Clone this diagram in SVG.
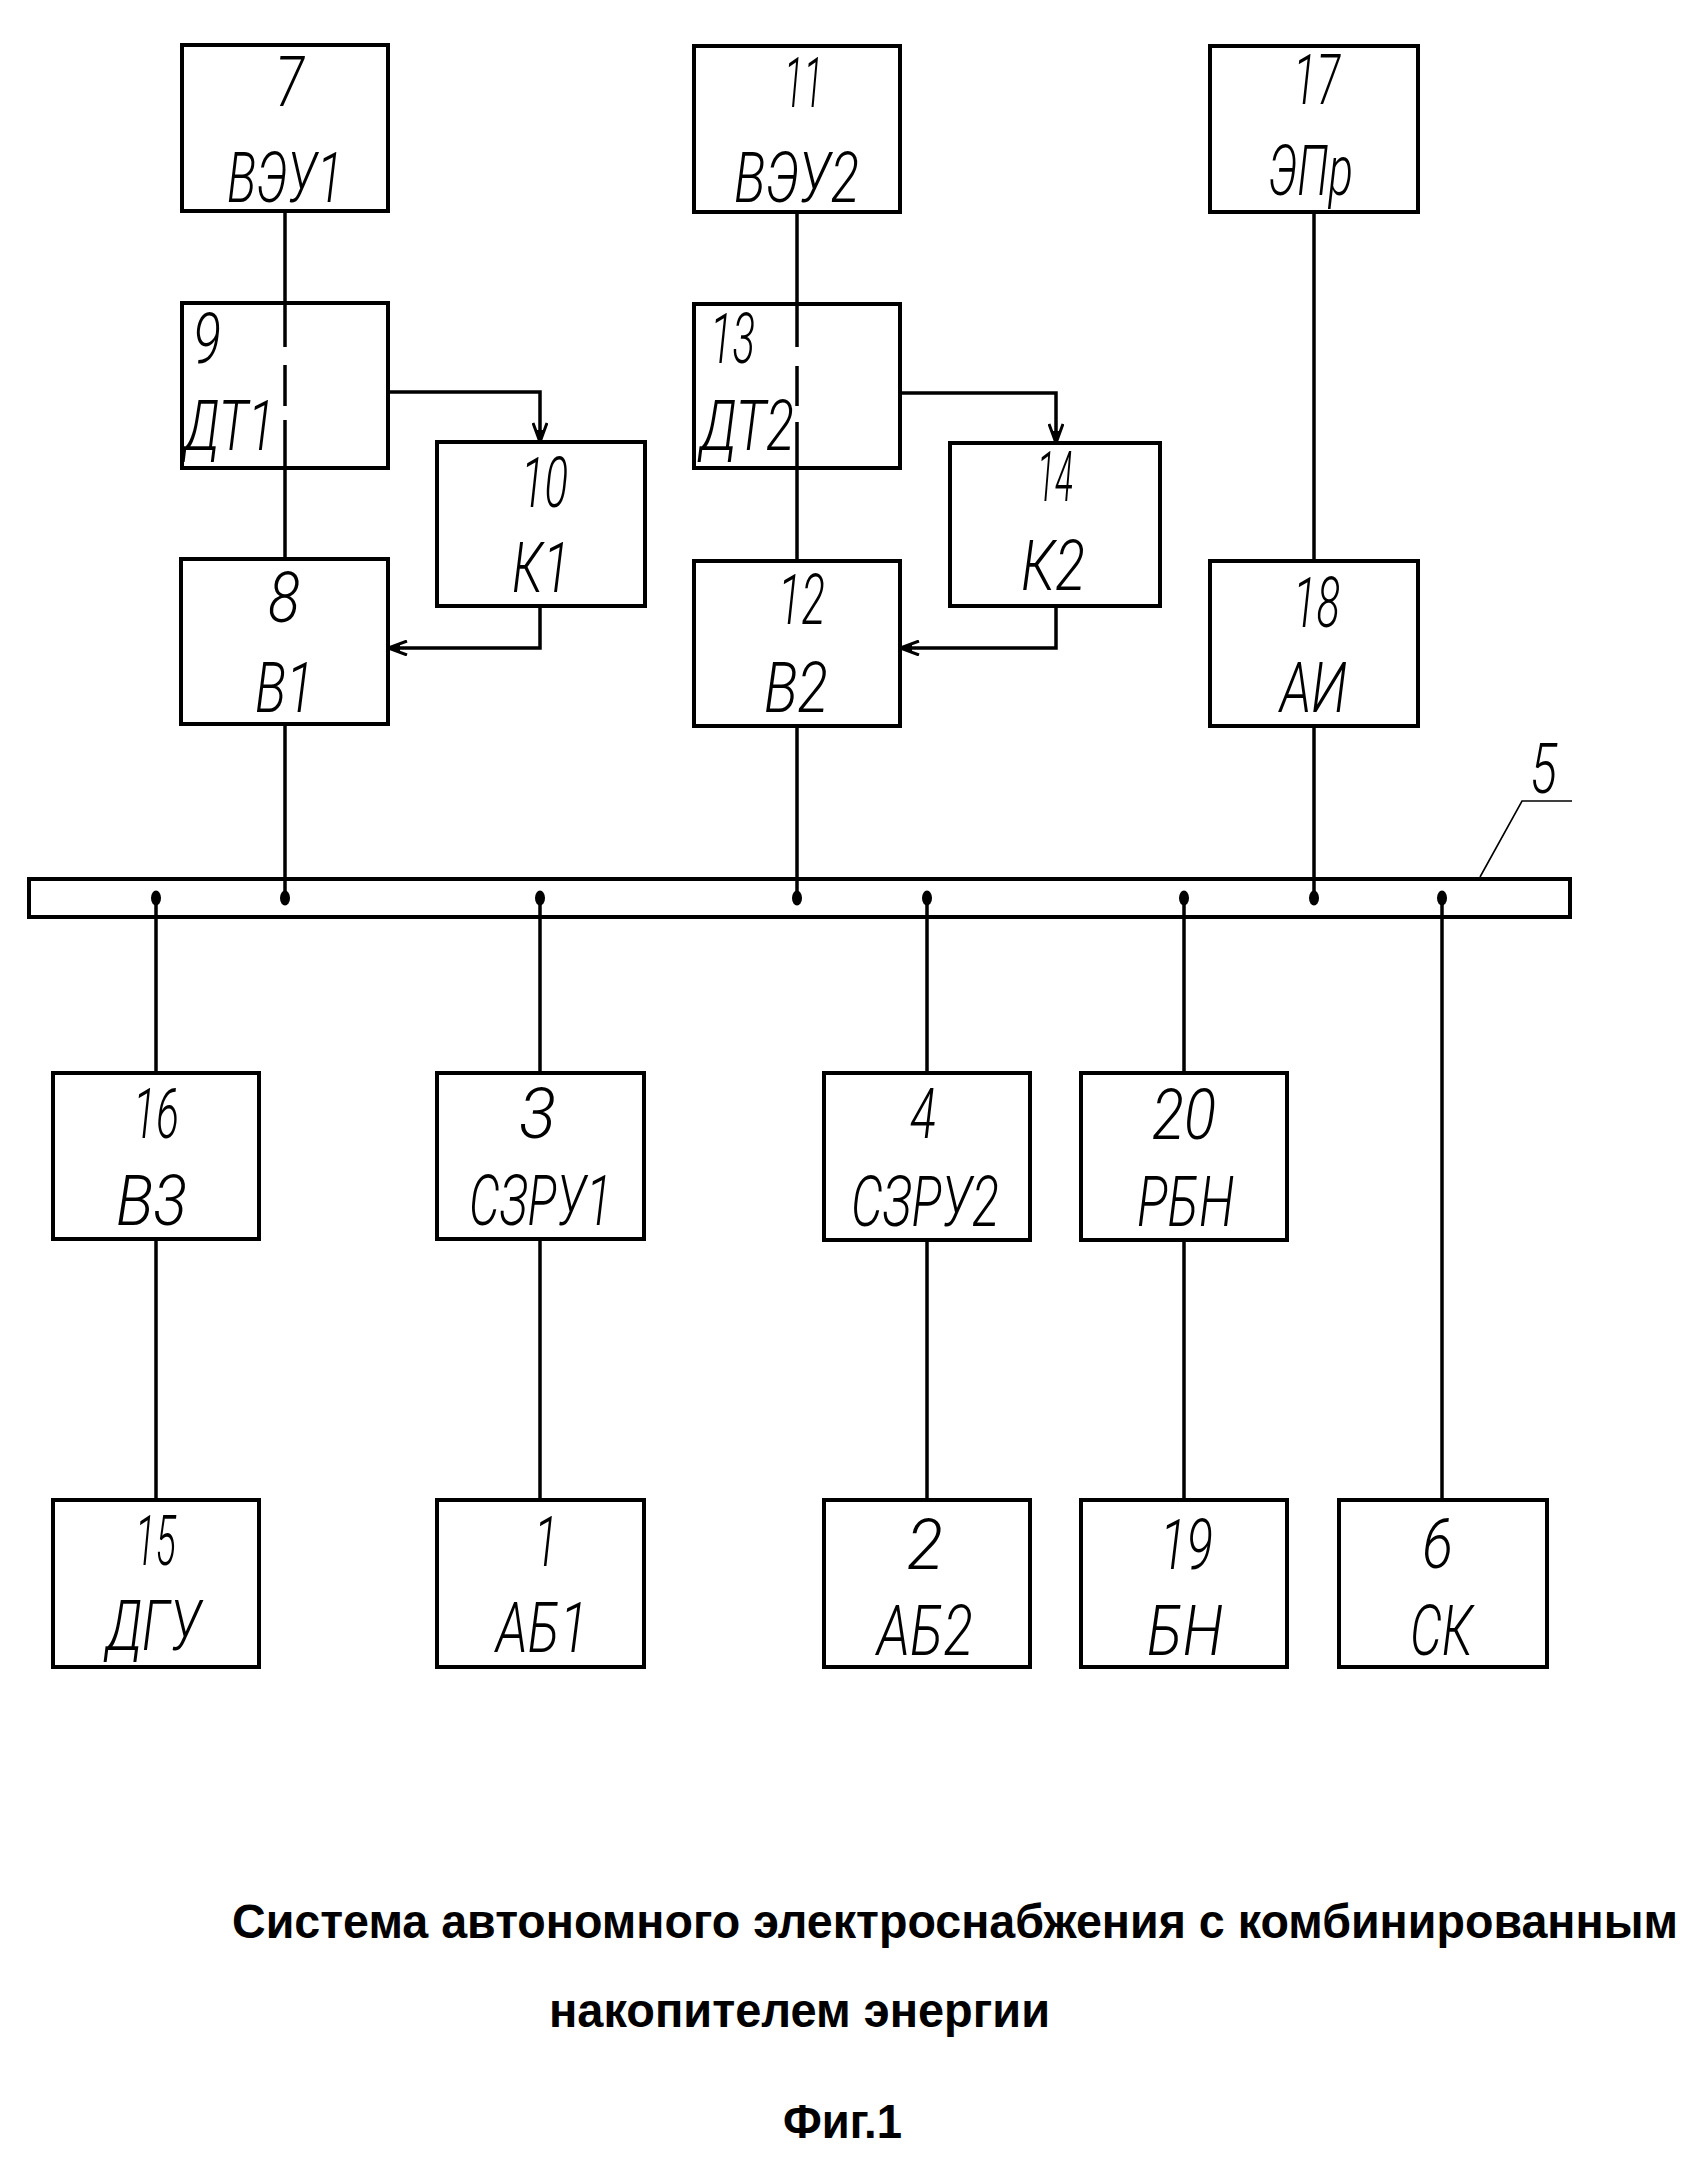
<svg xmlns="http://www.w3.org/2000/svg" width="1697" height="2165" viewBox="0 0 1697 2165">
<style>
.box{fill:#fff;stroke:#000;stroke-width:4}
.open{fill:none;stroke:#000;stroke-width:4}
.ln{fill:none;stroke:#000;stroke-width:3.5}
.thin{fill:none;stroke:#000;stroke-width:1.6}
.lbl{font-family:Roboto,"DejaVu Sans",sans-serif;font-weight:300;font-style:italic;font-size:70px;fill:#000}
.cap{font-family:"Liberation Sans",Arial,sans-serif;font-weight:bold;font-size:44px;fill:#000}
</style>
<defs>
<marker id="arr" viewBox="0 0 22 16" refX="20" refY="8" markerWidth="22" markerHeight="16" markerUnits="userSpaceOnUse" orient="auto">
<path d="M1,1 L20,8 L1,15" fill="none" stroke="#000" stroke-width="3"/>
<path d="M8,4 L20,8 L8,12 Z" fill="#000"/>
</marker>
</defs>
<rect width="1697" height="2165" fill="#fff"/>

<g id="connectors">
<path class="ln" d="M285,211 V347 M285,365 V406 M285,420 V559"/>
<path class="ln" d="M285,724 V898"/>
<path class="ln" d="M797,212 V347 M797,366 V406 M797,422 V561"/>
<path class="ln" d="M797,726 V898"/>
<path class="ln" d="M1314,212 V561"/>
<path class="ln" d="M1314,726 V898"/>
<path class="ln" d="M388,392 H540 V442" marker-end="url(#arr)"/>
<path class="ln" d="M540,606 V648 H388" marker-end="url(#arr)"/>
<path class="ln" d="M900,393 H1056 V443" marker-end="url(#arr)"/>
<path class="ln" d="M1056,606 V648 H900" marker-end="url(#arr)"/>
<path class="ln" d="M156,898 V1073 M156,1239 V1500"/>
<path class="ln" d="M540,898 V1073 M540,1239 V1500"/>
<path class="ln" d="M927,898 V1073 M927,1240 V1500"/>
<path class="ln" d="M1184,898 V1073 M1184,1240 V1500"/>
<path class="ln" d="M1442,898 V1500"/>
<polyline class="thin" points="1480,877 1522,801 1572,801"/>
</g>

<g id="bus5">
<rect class="open" x="29" y="879" width="1541" height="38"/>
<g fill="#000">
<ellipse cx="156" cy="898" rx="5" ry="7.5"/>
<ellipse cx="285" cy="898" rx="5" ry="7.5"/>
<ellipse cx="540" cy="898" rx="5" ry="7.5"/>
<ellipse cx="797" cy="898" rx="5" ry="7.5"/>
<ellipse cx="927" cy="898" rx="5" ry="7.5"/>
<ellipse cx="1184" cy="898" rx="5" ry="7.5"/>
<ellipse cx="1314" cy="898" rx="5" ry="7.5"/>
<ellipse cx="1442" cy="898" rx="5" ry="7.5"/>
</g>
<text class="lbl" x="1530" y="793" font-size="52" textLength="27" lengthAdjust="spacingAndGlyphs">5</text>
</g>

<g id="n7"><rect class="box" x="182" y="45" width="206" height="166"/>
<text class="lbl" x="275" y="106" textLength="29" lengthAdjust="spacingAndGlyphs">7</text>
<text class="lbl" x="227" y="202" textLength="116" lengthAdjust="spacingAndGlyphs">ВЭУ1</text></g>

<g id="n9"><rect class="open" x="182" y="303" width="206" height="165"/>
<text class="lbl" x="193" y="363" textLength="28" lengthAdjust="spacingAndGlyphs">9</text>
<text class="lbl" x="184" y="450" textLength="91" lengthAdjust="spacingAndGlyphs">ДТ1</text></g>

<g id="n10"><rect class="box" x="437" y="442" width="208" height="164"/>
<text class="lbl" x="521" y="507" textLength="47" lengthAdjust="spacingAndGlyphs">10</text>
<text class="lbl" x="512" y="592" textLength="58" lengthAdjust="spacingAndGlyphs">К1</text></g>

<g id="n8"><rect class="box" x="181" y="559" width="207" height="165"/>
<text class="lbl" x="268" y="622" textLength="32" lengthAdjust="spacingAndGlyphs">8</text>
<text class="lbl" x="255" y="712" textLength="59" lengthAdjust="spacingAndGlyphs">В1</text></g>

<g id="n11"><rect class="box" x="694" y="46" width="206" height="166"/>
<text class="lbl" x="784" y="107" textLength="39" lengthAdjust="spacingAndGlyphs">11</text>
<text class="lbl" x="734" y="202" textLength="125" lengthAdjust="spacingAndGlyphs">ВЭУ2</text></g>

<g id="n13"><rect class="open" x="694" y="304" width="206" height="164"/>
<text class="lbl" x="710" y="363" textLength="45" lengthAdjust="spacingAndGlyphs">13</text>
<text class="lbl" x="700" y="450" textLength="94" lengthAdjust="spacingAndGlyphs">ДТ2</text></g>

<g id="n14"><rect class="box" x="950" y="443" width="210" height="163"/>
<text class="lbl" x="1037" y="501" textLength="36" lengthAdjust="spacingAndGlyphs">14</text>
<text class="lbl" x="1021" y="590" textLength="64" lengthAdjust="spacingAndGlyphs">К2</text></g>

<g id="n12"><rect class="box" x="694" y="561" width="206" height="165"/>
<text class="lbl" x="778" y="624" textLength="47" lengthAdjust="spacingAndGlyphs">12</text>
<text class="lbl" x="764" y="712" textLength="64" lengthAdjust="spacingAndGlyphs">В2</text></g>

<g id="n17"><rect class="box" x="1210" y="46" width="208" height="166"/>
<text class="lbl" x="1293" y="104" textLength="47" lengthAdjust="spacingAndGlyphs">17</text>
<text class="lbl" x="1268" y="195" textLength="85" lengthAdjust="spacingAndGlyphs">ЭПр</text></g>

<g id="n18"><rect class="box" x="1210" y="561" width="208" height="165"/>
<text class="lbl" x="1293" y="627" textLength="47" lengthAdjust="spacingAndGlyphs">18</text>
<text class="lbl" x="1280" y="712" textLength="67" lengthAdjust="spacingAndGlyphs">АИ</text></g>

<g id="n16"><rect class="box" x="53" y="1073" width="206" height="166"/>
<text class="lbl" x="133" y="1138" textLength="46" lengthAdjust="spacingAndGlyphs">16</text>
<text class="lbl" x="116" y="1225" textLength="71" lengthAdjust="spacingAndGlyphs">В3</text></g>

<g id="n3"><rect class="box" x="437" y="1073" width="207" height="166"/>
<text class="lbl" x="519" y="1138" textLength="37" lengthAdjust="spacingAndGlyphs">3</text>
<text class="lbl" x="469" y="1225" textLength="143" lengthAdjust="spacingAndGlyphs">СЗРУ1</text></g>

<g id="n4"><rect class="box" x="824" y="1073" width="206" height="167"/>
<text class="lbl" x="910" y="1138" textLength="26" lengthAdjust="spacingAndGlyphs">4</text>
<text class="lbl" x="851" y="1226" textLength="148" lengthAdjust="spacingAndGlyphs">СЗРУ2</text></g>

<g id="n20"><rect class="box" x="1081" y="1073" width="206" height="167"/>
<text class="lbl" x="1152" y="1139" textLength="64" lengthAdjust="spacingAndGlyphs">20</text>
<text class="lbl" x="1137" y="1226" textLength="97" lengthAdjust="spacingAndGlyphs">РБН</text></g>

<g id="n15"><rect class="box" x="53" y="1500" width="206" height="167"/>
<text class="lbl" x="135" y="1565" textLength="41" lengthAdjust="spacingAndGlyphs">15</text>
<text class="lbl" x="106" y="1650" textLength="95" lengthAdjust="spacingAndGlyphs">ДГУ</text></g>

<g id="n1"><rect class="box" x="437" y="1500" width="207" height="167"/>
<text class="lbl" x="534" y="1566" textLength="24" lengthAdjust="spacingAndGlyphs">1</text>
<text class="lbl" x="496" y="1652" textLength="92" lengthAdjust="spacingAndGlyphs">АБ1</text></g>

<g id="n2"><rect class="box" x="824" y="1500" width="206" height="167"/>
<text class="lbl" x="907" y="1569" textLength="36" lengthAdjust="spacingAndGlyphs">2</text>
<text class="lbl" x="877" y="1655" textLength="96" lengthAdjust="spacingAndGlyphs">АБ2</text></g>

<g id="n19"><rect class="box" x="1081" y="1500" width="206" height="167"/>
<text class="lbl" x="1160" y="1569" textLength="53" lengthAdjust="spacingAndGlyphs">19</text>
<text class="lbl" x="1147" y="1655" textLength="76" lengthAdjust="spacingAndGlyphs">БН</text></g>

<g id="n6"><rect class="box" x="1339" y="1500" width="208" height="167"/>
<text class="lbl" x="1422" y="1568" textLength="31" lengthAdjust="spacingAndGlyphs">6</text>
<text class="lbl" x="1410" y="1655" textLength="63" lengthAdjust="spacingAndGlyphs">СК</text></g>

<g id="caption">
<text class="cap" transform="translate(232,1938) scale(1,1.11)" x="0" y="0" textLength="1446" lengthAdjust="spacingAndGlyphs">Система автономного электроснабжения с комбинированным</text>
<text class="cap" transform="translate(549,2027) scale(1,1.11)" x="0" y="0" textLength="501" lengthAdjust="spacingAndGlyphs">накопителем энергии</text>
<text class="cap" transform="translate(783,2138) scale(1,1.11)" x="0" y="0" textLength="119" lengthAdjust="spacingAndGlyphs">Фиг.1</text>
</g>
</svg>
